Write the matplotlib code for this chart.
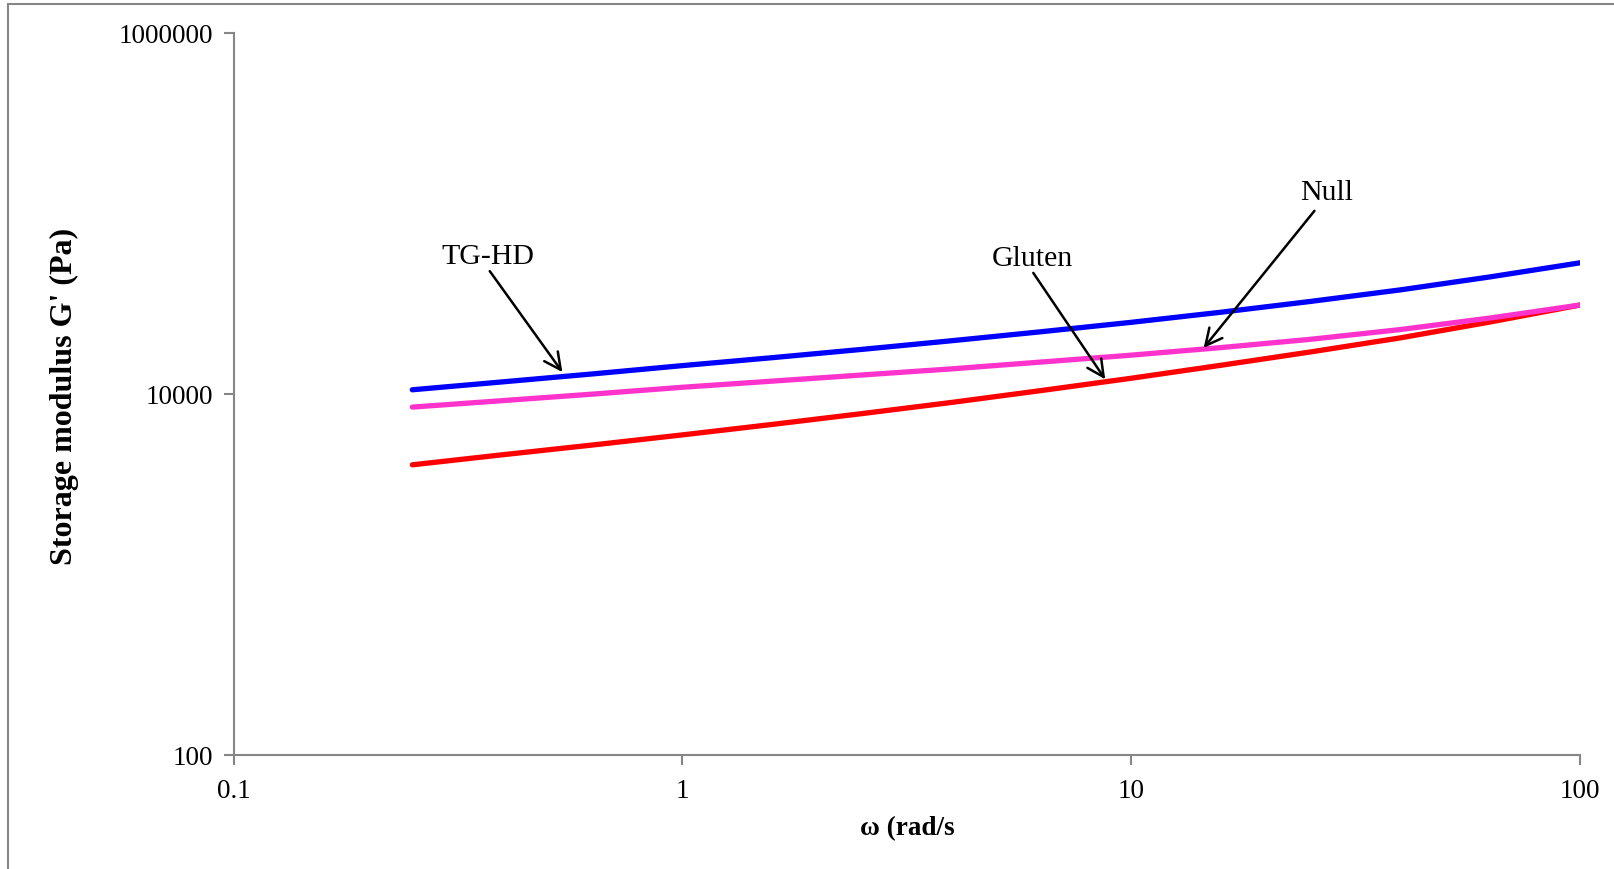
import numpy as np
import matplotlib.pyplot as plt
from matplotlib.patches import Rectangle

plt.rcParams['font.family'] = ['Liberation Serif', 'DejaVu Serif']

# angular frequency (rad/s)
omega = [0.25, 0.398, 0.631, 1.0, 1.585, 2.512, 3.981, 6.31, 10.0, 15.85, 25.12, 39.81, 63.1, 100.0]

# log10 of G' (Pa)
tg_hd_log = [4.022, 4.066, 4.110, 4.156, 4.200, 4.246, 4.294, 4.344, 4.396, 4.452, 4.512, 4.576, 4.648, 4.726]
null_log = [3.926, 3.962, 3.998, 4.036, 4.070, 4.104, 4.138, 4.176, 4.214, 4.256, 4.302, 4.356, 4.420, 4.492]
gluten_log = [3.606, 3.662, 3.716, 3.772, 3.830, 3.890, 3.952, 4.018, 4.086, 4.158, 4.232, 4.310, 4.398, 4.492]

tg_hd = 10 ** np.array(tg_hd_log)
null = 10 ** np.array(null_log)
gluten = 10 ** np.array(gluten_log)

yticks = [100, 10000, 1000000]
xticks = [0.1, 1, 10, 100]

W, H = 1614, 870
fig = plt.figure(figsize=(W / 100, H / 100), dpi=100)
ax = fig.add_axes([233.7 / W, 1 - 755.5 / H, (1580 - 233.7) / W, (755.5 - 34) / H])

ax.plot(omega, tg_hd, color='#0000FF', lw=3.8, solid_capstyle='round')
ax.plot(omega, gluten, color='#FF0000', lw=3.8, solid_capstyle='round')
ax.plot(omega, null, color='#FF33CC', lw=3.8, solid_capstyle='round')

ax.set_xscale('log')
ax.set_yscale('log')
ax.set_xlim(0.1, 100)
ax.set_ylim(100, 1000000)
ax.set_xticks(xticks)
ax.set_xticklabels(['0.1', '1', '10', '100'])
ax.set_yticks(yticks)
ax.set_yticklabels(['100', '10000', '1000000'])
ax.minorticks_off()

for s in ['top', 'right']:
    ax.spines[s].set_visible(False)
for s in ['left', 'bottom']:
    ax.spines[s].set_color('#868686')
    ax.spines[s].set_linewidth(1.5)
ax.tick_params(axis='both', direction='out', length=7, width=1.5, color='#868686',
               labelsize=19.5, labelcolor='black')
ax.tick_params(axis='y', pad=8)
ax.tick_params(axis='x', pad=10)

ax.set_ylabel("Storage modulus G' (Pa)", fontsize=23, fontweight='bold', va='center')
ax.yaxis.set_label_coords(-0.126, 0.498)
ax.set_xlabel('\u03c9 (rad/s', fontsize=19.5, fontweight='bold', va='center')
ax.xaxis.set_label_coords(0.5, -0.102)

# labels with arrows
arrow = dict(arrowstyle='->', color='black', lw=1.8, mutation_scale=30, shrinkA=0, shrinkB=0)
ax.text(0.368, 10 ** 4.763, 'TG-HD', fontsize=21.5, ha='center', va='center')
ax.annotate('', xy=(0.54, 10 ** 4.120), xytext=(0.372, 10 ** 4.680), arrowprops=arrow)
ax.text(6.03, 10 ** 4.752, 'Gluten', fontsize=21.5, ha='center', va='center')
ax.annotate('', xy=(8.75, 10 ** 4.080), xytext=(6.05, 10 ** 4.670), arrowprops=arrow)
ax.text(27.2, 10 ** 5.118, 'Null', fontsize=21.5, ha='center', va='center')
ax.annotate('', xy=(14.5, 10 ** 4.254), xytext=(25.6, 10 ** 5.014), arrowprops=arrow)

# chart area border
fig.patches.append(Rectangle((8 / W, -0.1), 1.2, 1 - 5 / H + 0.1, transform=fig.transFigure,
                             fill=False, edgecolor='#868686', lw=1.5))

fig.savefig('out.png', dpi=100)
